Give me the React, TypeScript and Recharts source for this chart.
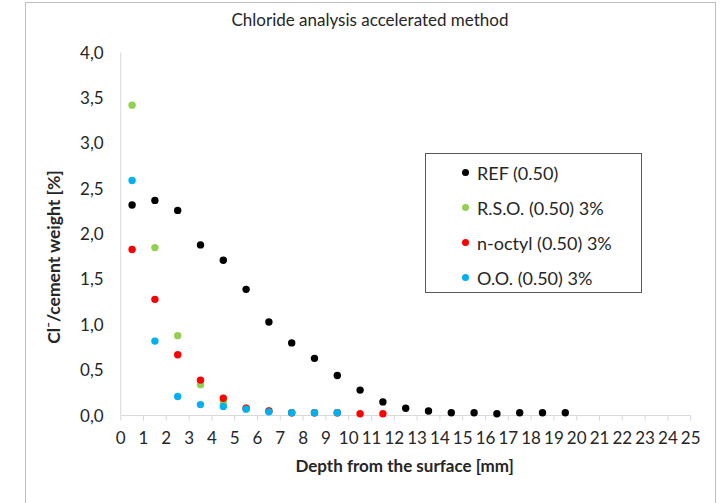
import { Legend, Label, Scatter, ScatterChart, XAxis, YAxis } from "recharts";

const depths = [0.5, 1.5, 2.5, 3.5, 4.5, 5.5, 6.5, 7.5, 8.5, 9.5, 10.5, 11.5, 12.5, 13.5, 14.5, 15.5, 16.5, 17.5, 18.5, 19.5];

const refValues = [2.32, 2.37, 2.26, 1.88, 1.71, 1.39, 1.03, 0.8, 0.63, 0.44, 0.28, 0.15, 0.08, 0.05, 0.03, 0.03, 0.02, 0.03, 0.03, 0.03];
const rsoValues = [3.42, 1.85, 0.88, 0.34, 0.15, 0.08, 0.05, 0.03, 0.03, 0.03];
const octylValues = [1.83, 1.28, 0.67, 0.39, 0.19, 0.08, 0.05, 0.03, 0.03, 0.03, 0.02, 0.02];
const ooValues = [2.59, 0.82, 0.21, 0.12, 0.1, 0.07, 0.04, 0.03, 0.03, 0.03];

const xTicks = Array.from({ length: 26 }, (_, i) => i);
const yTicks = [0, 0.5, 1, 1.5, 2, 2.5, 3, 3.5, 4];

const series = [
  { name: "REF (0.50)", values: refValues, color: "#000000" },
  { name: "R.S.O. (0.50) 3%", values: rsoValues, color: "#92d050" },
  { name: "n-octyl (0.50) 3%", values: octylValues, color: "#ff0000" },
  { name: "O.O. (0.50) 3%", values: ooValues, color: "#00b0f0" },
];

const font = "Lato, 'Noto Sans', sans-serif";
const axisGrey = "#d9d9d9";
const textColor = "#262626";

const toPoints = (values: number[]) => values.map((v, i) => ({ x: depths[i], y: v }));

const Dot = (props: any) => <circle cx={props.cx} cy={props.cy} r={3.7} fill={props.fill} />;

// legend keeps the series order (Excel style), not the sorted payload
const LegendBox = () => (
  <div
    style={{
      width: 217,
      height: 140,
      boxSizing: "border-box",
      border: "1px solid #595959",
      background: "#fff",
      paddingTop: 1,
      fontFamily: font,
      fontSize: 18,
      color: textColor,
    }}
  >
    {series.map((s) => (
      <div key={s.name} style={{ height: 35, display: "flex", alignItems: "center" }}>
        <span
          style={{
            display: "inline-block",
            width: 7,
            height: 7,
            borderRadius: "50%",
            background: s.color,
            marginLeft: 36,
            marginRight: 8,
          }}
        />
        <span>{s.name}</span>
      </div>
    ))}
  </div>
);

export default function App() {
  return (
    <div style={{ position: "absolute", left: 0, top: 0, width: 725, height: 503, overflow: "hidden", background: "#fff" }}>
      <div style={{ position: "absolute", left: 25, top: 2, width: 689, height: 540, border: "1px solid #bfbfbf" }} />
      <div
        style={{
          position: "absolute",
          left: 0,
          width: 725,
          top: 9,
          textAlign: "center",
          paddingLeft: 15,
          boxSizing: "border-box",
          fontFamily: font,
          fontSize: 17,
          color: textColor,
        }}
      >
        Chloride analysis accelerated method
      </div>
      <ScatterChart
        width={725}
        height={503}
        margin={{ top: 52.5, right: 34.3, bottom: 57.5, left: 60.7 }}
        style={{ position: "absolute", left: 0, top: 0, fontFamily: font }}
      >
        <XAxis
          type="number"
          dataKey="x"
          domain={[0, 25]}
          ticks={xTicks}
          interval={0}
          height={30}
          tickSize={5}
          tickMargin={11}
          stroke={axisGrey}
          tick={{ fill: textColor, fontSize: 17 }}
        >
          <Label
            content={({ viewBox }: any) => (
              <text
                x={viewBox.x + viewBox.width / 2 - 1}
                y={465}
                textAnchor="middle"
                dominantBaseline="central"
                fontWeight="bold"
                fontSize={17}
                fill={textColor}
              >
                Depth from the surface [mm]
              </text>
            )}
          />
        </XAxis>
        <YAxis
          type="number"
          dataKey="y"
          domain={[0, 4]}
          ticks={yTicks}
          width={60}
          tickLine={false}
          tickSize={6}
          tickMargin={11}
          stroke={axisGrey}
          tick={{ fill: textColor, fontSize: 17 }}
          tickFormatter={(v: number) => v.toFixed(1).replace(".", ",")}
        >
          <Label
            content={() => (
              <text
                x={53}
                y={257}
                transform="rotate(-90 53 257)"
                textAnchor="middle"
                dominantBaseline="central"
                fontWeight="bold"
                fontSize={17.5}
                fill={textColor}
              >
                Cl⁻/cement weight [%]
              </text>
            )}
          />
        </YAxis>
        <Legend
          layout="vertical"
          align="center"
          verticalAlign="middle"
          wrapperStyle={{ left: 425, top: 153, width: 217 }}
          content={LegendBox}
        />
        {series.map((s) => (
          <Scatter
            key={s.name}
            name={s.name}
            data={toPoints(s.values)}
            fill={s.color}
            shape={Dot}
            isAnimationActive={false}
          />
        ))}
      </ScatterChart>
    </div>
  );
}
